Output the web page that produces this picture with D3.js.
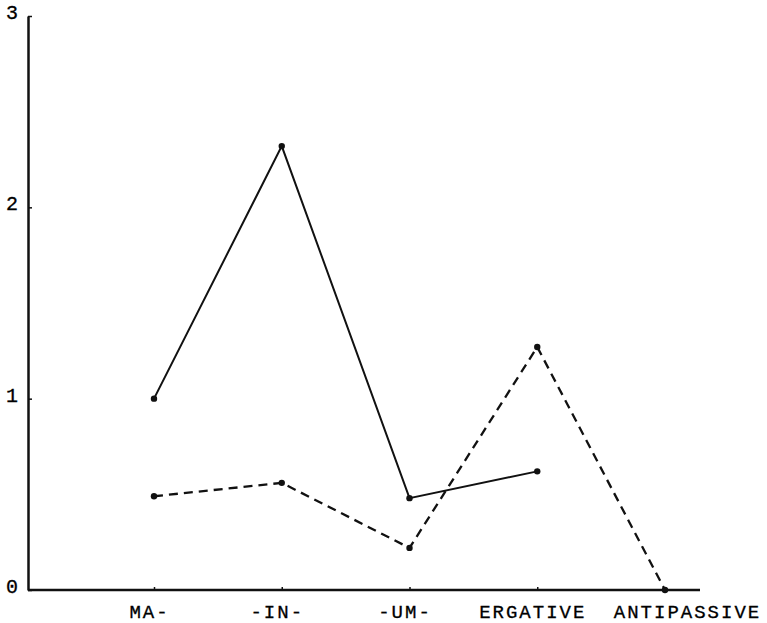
<!DOCTYPE html>
<html>
<head>
<meta charset="utf-8">
<script src="https://cdn.jsdelivr.net/npm/d3@7"></script>
<style>
  body { margin: 0; background: #fff; }
  text { font-family: "Liberation Mono", "DejaVu Sans Mono", monospace; fill: #000; }
</style>
</head>
<body>
<script>
const categories = ["MA-", "-IN-", "-UM-", "ERGATIVE", "ANTIPASSIVE"];
const solidValues = [1.0, 2.32, 0.48, 0.62, null];
const dashedValues = [0.49, 0.56, 0.22, 1.27, 0.0];
const yTicks = [0, 1, 2, 3];

const width = 767, height = 623;
const axisX = 28, axisY = 590, axisEnd = 700;

const svg = d3.select("body").append("svg")
  .attr("width", width)
  .attr("height", height);

const x = d3.scalePoint().domain(categories).range([154, 665]);
const y = d3.scaleLinear().domain([0, 3]).range([axisY, 16]);

// y axis
const yAxis = d3.axisLeft(y)
  .tickValues(yTicks)
  .tickFormat(d3.format("d"))
  .tickSizeInner(-4)
  .tickSizeOuter(0)
  .tickPadding(10);
const gy = svg.append("g").attr("transform", `translate(${axisX},0)`).call(yAxis);
gy.select(".domain").attr("stroke", "#111").attr("stroke-width", 2.5);
gy.selectAll(".tick line").attr("stroke", "#111").attr("stroke-width", 1.5);
gy.selectAll(".tick text")
  .attr("font-size", 20)
  .attr("dy", "0.12em")
  .attr("stroke", "#000").attr("stroke-width", 0.3)
  .attr("font-family", "Liberation Mono, monospace");

// x axis
const xAxis = d3.axisBottom(x).tickSizeInner(-3).tickSizeOuter(0).tickPadding(15);
const gx = svg.append("g").attr("transform", `translate(0,${axisY})`).call(xAxis);
gx.select(".domain").remove();
gx.append("line")
  .attr("x1", axisX).attr("x2", axisEnd)
  .attr("stroke", "#111").attr("stroke-width", 2.5);
gx.selectAll(".tick line").attr("stroke", "#111").attr("stroke-width", 1.5);
gx.selectAll(".tick text")
  .attr("font-size", 19)
  .attr("letter-spacing", "2px")
  .attr("stroke", "#000").attr("stroke-width", 0.3)
  .attr("dx", (d, i) => i === categories.length - 1 ? 22 : -5)
  .attr("font-family", "Liberation Mono, monospace");

// lines
const line = d3.line()
  .defined(d => d.v !== null)
  .x(d => x(d.c))
  .y(d => y(d.v));

const solid = categories.map((c, i) => ({ c, v: solidValues[i] }));
const dashed = categories.map((c, i) => ({ c, v: dashedValues[i] }));

svg.append("path").datum(dashed)
  .attr("d", line)
  .attr("fill", "none")
  .attr("stroke", "#111")
  .attr("stroke-width", 2.3)
  .attr("stroke-dasharray", "9,6");

svg.append("path").datum(solid)
  .attr("d", line)
  .attr("fill", "none")
  .attr("stroke", "#111")
  .attr("stroke-width", 2);

svg.selectAll("circle.pt")
  .data(solid.concat(dashed).filter(d => d.v !== null))
  .enter().append("circle")
  .attr("class", "pt")
  .attr("cx", d => x(d.c))
  .attr("cy", d => y(d.v))
  .attr("r", 3.2)
  .attr("fill", "#111");
</script>
</body>
</html>
